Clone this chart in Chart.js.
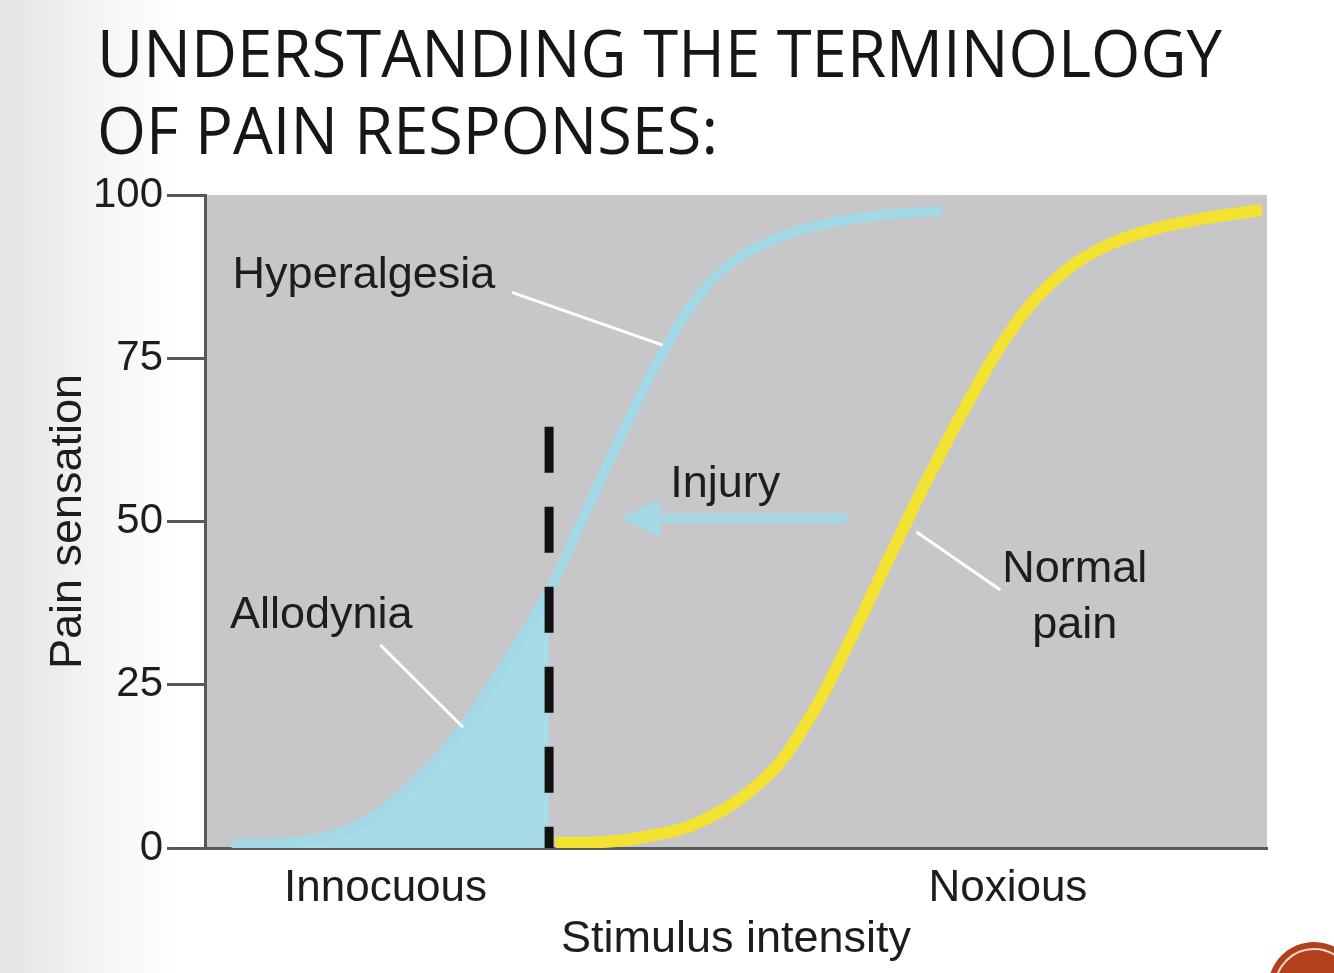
<!DOCTYPE html>
<html>
<head>
<meta charset="utf-8">
<script src="https://cdn.jsdelivr.net/npm/chart.js@4/dist/chart.umd.min.js"></script>
<style>
html,body{margin:0;padding:0;background:#fff;}
#wrap{width:1334px;height:973px;position:relative;}
</style>
</head>
<body>
<div id="wrap"><canvas id="c" width="1334" height="973"></canvas></div>
<script>
// ---- data ----
const titleLines = ['UNDERSTANDING THE TERMINOLOGY', 'OF PAIN RESPONSES:'];
const yAxisTitle = 'Pain sensation';
const xAxisTitle = 'Stimulus intensity';
const yTickValues = [0, 25, 50, 75, 100];
const yTickLabels = ['0', '25', '50', '75', '100'];
const xTickValues = [17, 75.6];
const xTickLabels = ['Innocuous', 'Noxious'];

// Hyperalgesia / allodynia curve (after injury)
const blueX = [2.5, 8.9, 13.7, 18.4, 23.1, 27.8, 32.4, 36.0, 39.6, 43.0, 46.2, 49.5, 53.0, 58.5, 64.3, 69.4];
const blueY = [0.5, 1, 3, 8, 16, 27, 39.5, 52, 64.5, 75.5, 84, 89.5, 92.8, 95.6, 97.0, 97.5];
// threshold (dashed line) stimulus and its top
const thresholdX = 32.4;
const thresholdTop = 64.5;
// Normal pain curve
const yellowX = [33.0, 37.2, 41.0, 46.6, 52.6, 56.6, 60.5, 64.3, 68.2, 72.1, 76.0, 79.9, 84.0, 89.0, 94.0, 99.5];
const yellowY = [0.8, 0.9, 1.6, 4.0, 10.5, 19.0, 31.0, 44.0, 57.0, 69.0, 79.5, 86.8, 91.5, 94.6, 96.4, 97.7];

// annotations (data coordinates)
const labels = [
  {text: 'Hyperalgesia', x: 2.6, y: 87.6, align: 'left'},
  {text: 'Allodynia', x: 2.35, y: 35.6, align: 'left'},
  {text: 'Injury', x: 43.8, y: 55.6, align: 'left'},
  {text: 'Normal', x: 81.9, y: 42.6, align: 'center'},
  {text: 'pain', x: 81.9, y: 34.0, align: 'center'}
];
const leaders = [
  [28.9, 85.1, 43.1, 77.0],
  [16.5, 31.1, 24.3, 18.5],
  [67.0, 48.4, 74.9, 39.5]
];
const injuryArrow = {from: 60.5, base: 42.9, tip: 39.1, y: 50.5};

const BLUE = '#a3d8e6';
const YELLOW = '#f3e232';
const AXIS = '#585858';
const TXT = '#1d1d1d';
const FONT = '"Liberation Sans", Arial, sans-serif';

const pts = (xs, ys) => xs.map((x, i) => ({x, y: ys[i]}));
const cut = blueX.indexOf(thresholdX);

const decor = {
  id: 'decor',
  beforeDraw(chart) {
    const ctx = chart.ctx, a = chart.chartArea;
    ctx.save();
    const g = ctx.createLinearGradient(0, 0, 180, 0);
    g.addColorStop(0, '#e4e4e4');
    g.addColorStop(0.6, '#f6f6f6');
    g.addColorStop(1, '#ffffff');
    ctx.fillStyle = g;
    ctx.fillRect(0, 0, chart.width, chart.height);
    ctx.fillStyle = '#c7c6c8';
    ctx.fillRect(a.left, a.top, a.right - a.left, a.bottom - a.top);
    // title
    ctx.fillStyle = '#161616';
    ctx.font = '400 66px "Open Sans", sans-serif';
    ctx.textBaseline = 'alphabetic';
    ctx.textAlign = 'left';
    ctx.fillText(titleLines[0], 97, 77, 1125);
    ctx.fillText(titleLines[1], 97, 154, 621);
    ctx.restore();
  },
  afterDatasetsDraw(chart) {
    const ctx = chart.ctx, xs = chart.scales.x, ys = chart.scales.y;
    const px = v => xs.getPixelForValue(v), py = v => ys.getPixelForValue(v);
    ctx.save();
    // leader lines
    ctx.strokeStyle = '#ffffff';
    ctx.lineWidth = 3;
    leaders.forEach(l => {
      ctx.beginPath();
      ctx.moveTo(px(l[0]), py(l[1]));
      ctx.lineTo(px(l[2]), py(l[3]));
      ctx.stroke();
    });
    // injury arrow
    const ay = py(injuryArrow.y);
    ctx.strokeStyle = BLUE;
    ctx.lineWidth = 9;
    ctx.beginPath();
    ctx.moveTo(px(injuryArrow.from), ay);
    ctx.lineTo(px(injuryArrow.base) + 2, ay);
    ctx.stroke();
    ctx.fillStyle = BLUE;
    ctx.beginPath();
    ctx.moveTo(px(injuryArrow.tip), ay);
    ctx.lineTo(px(injuryArrow.base), ay - 19);
    ctx.lineTo(px(injuryArrow.base), ay + 19);
    ctx.closePath();
    ctx.fill();
    // text labels
    ctx.fillStyle = TXT;
    ctx.font = '45px ' + FONT;
    ctx.textBaseline = 'middle';
    labels.forEach(l => {
      ctx.textAlign = l.align;
      ctx.fillText(l.text, px(l.x), py(l.y));
    });
    ctx.restore();
  },
  afterDraw(chart) {
    const ctx = chart.ctx;
    ctx.save();
    ctx.fillStyle = '#b3401d';
    ctx.beginPath();
    ctx.arc(1314, 988, 46, 0, Math.PI * 2);
    ctx.fill();
    ctx.strokeStyle = '#f3d8cc';
    ctx.lineWidth = 2;
    ctx.beginPath();
    ctx.arc(1314, 988, 39, 0, Math.PI * 2);
    ctx.stroke();
    ctx.restore();
  }
};

new Chart(document.getElementById('c'), {
  type: 'line',
  data: {
    datasets: [
      {
        label: 'threshold',
        data: [{x: thresholdX, y: thresholdTop}, {x: thresholdX, y: 0}],
        borderColor: '#111111',
        borderWidth: 9,
        borderDash: [46, 34],
        borderCapStyle: 'butt',
        pointRadius: 0,
        tension: 0,
        fill: false,
        order: 0
      },
      {
        label: 'Hyperalgesia',
        data: pts(blueX, blueY),
        borderColor: BLUE,
        borderWidth: 10,
        tension: 0.4,
        pointRadius: 0,
        fill: false,
        order: 1
      },
      {
        label: 'Normal pain',
        data: pts(yellowX, yellowY),
        borderColor: YELLOW,
        borderWidth: 12,
        tension: 0.4,
        pointRadius: 0,
        fill: false,
        order: 2
      },
      {
        label: 'Allodynia',
        data: pts(blueX.slice(0, cut + 1), blueY.slice(0, cut + 1)),
        borderColor: BLUE,
        borderWidth: 0,
        backgroundColor: '#a8dbe8',
        tension: 0.4,
        pointRadius: 0,
        fill: 'origin',
        order: 3
      }
    ]
  },
  options: {
    responsive: false,
    animation: false,
    devicePixelRatio: 1,
    layout: {padding: {left: 40, top: 195, right: 67, bottom: 0}},
    plugins: {legend: {display: false}, tooltip: {enabled: false}, title: {display: false}},
    scales: {
      x: {
        type: 'linear',
        min: 0,
        max: 100,
        afterFit(s) { s.height = 125; },
        afterBuildTicks(s) { s.ticks = xTickValues.map(v => ({value: v})); },
        grid: {display: false},
        border: {display: true, color: AXIS, width: 3},
        ticks: {
          autoSkip: false,
          maxRotation: 0,
          padding: 6,
          color: TXT,
          font: {family: FONT, size: 44},
          callback: (v, i) => xTickLabels[i]
        },
        title: {
          display: true,
          text: xAxisTitle,
          color: TXT,
          font: {family: FONT, size: 45},
          padding: {top: 0, bottom: 6}
        }
      },
      y: {
        type: 'linear',
        min: 0,
        max: 100,
        afterFit(s) { s.width = 165; },
        afterBuildTicks(s) { s.ticks = yTickValues.map(v => ({value: v})); },
        grid: {drawOnChartArea: false, drawTicks: true, tickLength: 38, color: AXIS, lineWidth: 3},
        border: {display: true, color: AXIS, width: 3},
        ticks: {
          padding: 4,
          color: TXT,
          font: {family: FONT, size: 42},
          callback: (v, i) => yTickLabels[yTickValues.indexOf(v)]
        },
        title: {
          display: true,
          text: yAxisTitle,
          color: TXT,
          font: {family: FONT, size: 45},
          padding: {top: 2, bottom: 0}
        }
      }
    }
  },
  plugins: [decor]
});
</script>
</body>
</html>
